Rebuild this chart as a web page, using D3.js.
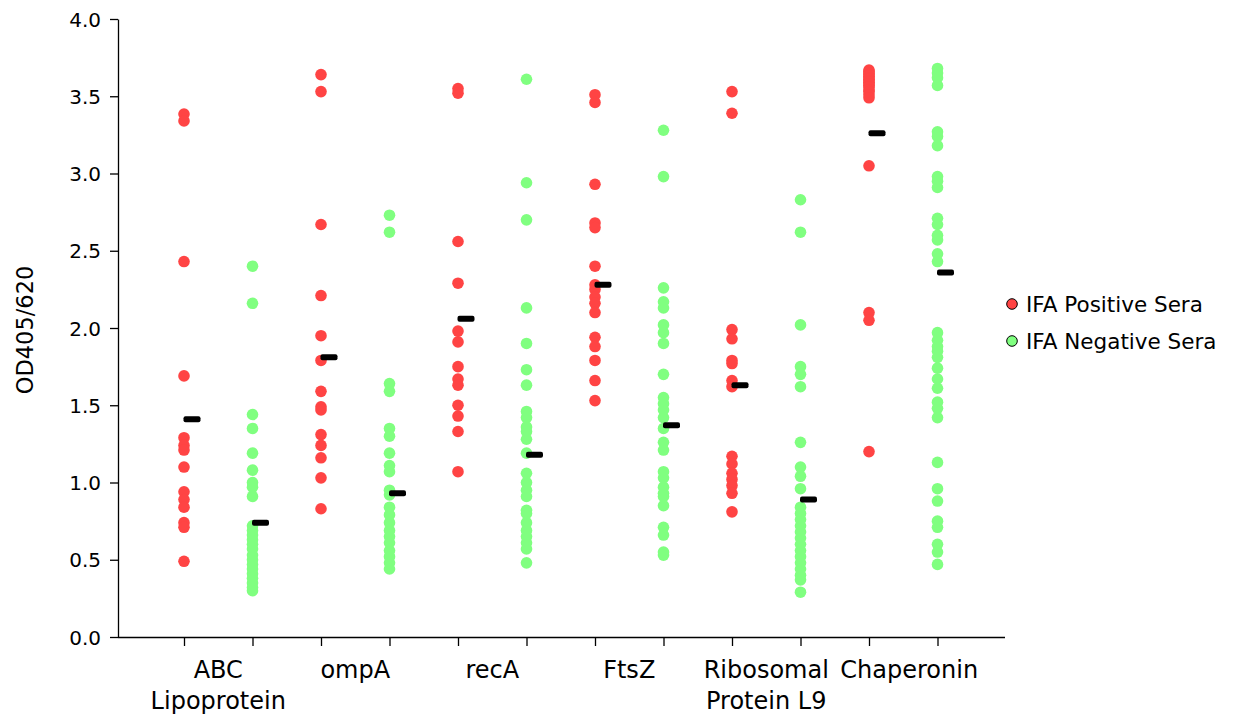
<!DOCTYPE html>
<html><head><meta charset="utf-8">
<script src="https://cdn.jsdelivr.net/npm/d3@7"></script>
<style>body{margin:0;background:#fff}svg{display:block}text{font-family:"DejaVu Sans",Verdana,sans-serif;fill:#000}</style>
</head><body><svg id="c" width="1234" height="717"></svg>
<script>
const categories = [["ABC","Lipoprotein"],["ompA"],["recA"],["FtsZ"],["Ribosomal","Protein L9"],["Chaperonin"]];
const seriesNames = ["IFA Positive Sera","IFA Negative Sera"];
const seriesColors = ["#ff4444","#80ff80"];
const yTicks = [0,0.5,1,1.5,2,2.5,3,3.5,4];

const positive = [
  [3.385,3.34,2.43,1.69,1.29,1.24,1.21,1.10,0.94,0.89,0.84,0.74,0.71,0.49],
  [3.64,3.53,2.67,2.21,1.95,1.79,1.59,1.49,1.47,1.31,1.24,1.16,1.03,0.83],
  [3.55,3.52,2.56,2.29,1.98,1.91,1.75,1.67,1.63,1.50,1.43,1.33,1.07],
  [3.51,3.46,2.93,2.68,2.65,2.40,2.28,2.25,2.20,2.16,2.10,1.94,1.88,1.79,1.66,1.53],
  [3.53,3.39,1.99,1.93,1.79,1.77,1.66,1.62,1.17,1.12,1.06,1.02,0.98,0.93,0.81],
  [3.67,3.66,3.65,3.64,3.63,3.62,3.61,3.60,3.59,3.58,3.57,3.56,3.54,3.53,3.51,3.49,3.05,2.10,2.05,1.20]
];
const negative = [
  [2.40,2.16,1.44,1.35,1.19,1.08,1.00,0.97,0.91,0.72,0.69,0.66,0.63,0.60,0.57,0.53,0.50,0.47,0.44,0.41,0.38,0.35,0.32,0.30],
  [2.73,2.62,1.64,1.59,1.35,1.30,1.19,1.11,1.07,0.95,0.92,0.84,0.79,0.74,0.69,0.65,0.61,0.56,0.52,0.48,0.44],
  [3.61,2.94,2.70,2.13,1.90,1.73,1.63,1.46,1.42,1.36,1.33,1.28,1.19,1.06,1.00,0.95,0.91,0.82,0.80,0.74,0.69,0.65,0.61,0.57,0.48],
  [3.28,2.98,2.26,2.17,2.13,2.02,1.97,1.90,1.70,1.55,1.51,1.47,1.42,1.35,1.26,1.21,1.07,1.03,0.97,0.93,0.91,0.85,0.71,0.66,0.55,0.53],
  [2.83,2.62,2.02,1.75,1.70,1.62,1.26,1.10,1.04,0.96,0.84,0.80,0.76,0.72,0.68,0.64,0.60,0.56,0.52,0.48,0.44,0.40,0.37,0.29],
  [3.68,3.65,3.62,3.57,3.27,3.24,3.18,2.98,2.95,2.91,2.71,2.67,2.60,2.57,2.48,2.43,1.97,1.92,1.88,1.85,1.81,1.74,1.67,1.61,1.52,1.48,1.42,1.13,0.96,0.88,0.75,0.71,0.60,0.55,0.47]
];
const posMeans = [1.41,1.81,2.06,2.28,1.63,3.26];
const negMeans = [0.74,0.93,1.18,1.37,0.89,2.36];

const svg = d3.select("#c");
const y = d3.scaleLinear().domain([0,4]).range([637,19]);
const x = d3.scaleLinear().domain([0,13]).range([115.5,1006]);
const xPos = (ci, s) => x(ci*2 + 1 + s);

// axes
const gy = svg.append("g").attr("transform","translate(118,0)")
  .call(d3.axisLeft(y).tickValues(yTicks).tickFormat(d3.format(".1f")).tickSize(8).tickSizeOuter(0));
gy.select(".domain").attr("stroke","#000").attr("stroke-width",1.3);
gy.selectAll(".tick line").attr("stroke","#000").attr("stroke-width",1.3);
gy.selectAll(".tick text").attr("x",-17).style("font-size","20px").attr("dy","0.35em");

const gx = svg.append("g").attr("transform","translate(0,637)")
  .call(d3.axisBottom(x).tickValues(d3.range(1,13)).tickFormat("").tickSize(9).tickSizeOuter(0));
gx.select(".domain").attr("d","M118,0.5H1005").attr("stroke","#000").attr("stroke-width",1.3);
gx.selectAll(".tick line").attr("stroke","#000").attr("stroke-width",1.3);

// category labels
categories.forEach((lines, ci) => {
  const cx = (xPos(ci,0)+xPos(ci,1))/2 + (ci===5 ? 6 : 0);
  const t = svg.append("text").attr("x",cx).attr("y",678).attr("text-anchor","middle").style("font-size","24px");
  lines.forEach((l,i)=>t.append("tspan").attr("x",cx).attr("dy", i? 31:0).text(l));
});

// y label
svg.append("text").attr("transform","translate(33,330) rotate(-90)").attr("text-anchor","middle")
  .style("font-size","22.5px").text("OD405/620");

// dots
[positive, negative].forEach((series, s) => {
  series.forEach((vals, ci) => {
    svg.append("g").selectAll("circle").data(vals).join("circle")
      .attr("cx", xPos(ci,s)).attr("cy", d=>y(d)).attr("r",5.8)
      .attr("fill", seriesColors[s]);
  });
});

// means
[posMeans, negMeans].forEach((means, s) => {
  svg.append("g").selectAll("rect").data(means).join("rect")
    .attr("x",(d,ci)=>xPos(ci,s)-0.5).attr("y",d=>y(d)-3).attr("width",17).attr("height",6)
    .attr("rx",2).attr("fill","#000");
});

// legend
seriesNames.forEach((name,i)=>{
  const ly = 304 + i*37;
  svg.append("circle").attr("cx",1012).attr("cy",ly).attr("r",5.3)
    .attr("fill",seriesColors[i]).attr("stroke","#000").attr("stroke-width",1);
  svg.append("text").attr("x",1026).attr("y",ly).attr("dy","0.36em").style("font-size","21.5px").text(name);
});
</script></body></html>
